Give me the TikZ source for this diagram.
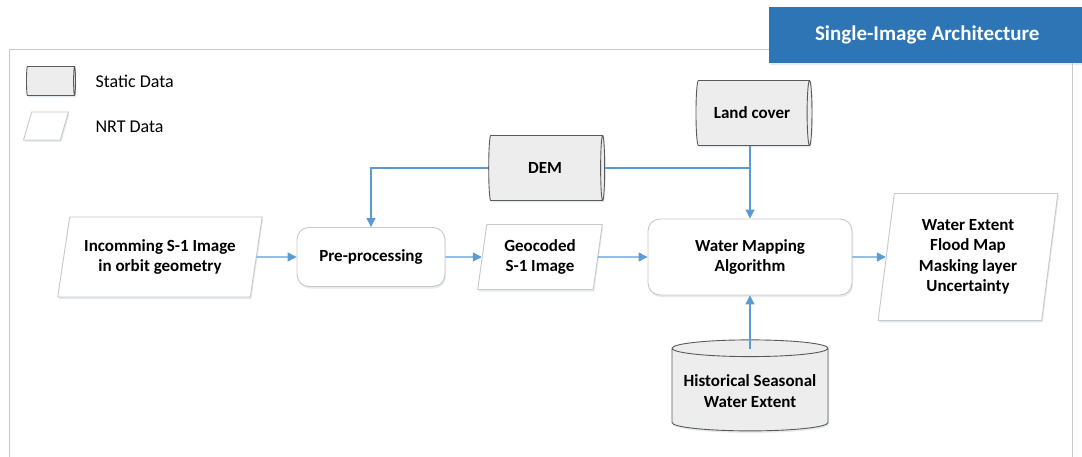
\documentclass[tikz,border=0pt]{standalone}
\usepackage{fontspec}
\setmainfont{Carlito}
\usetikzlibrary{shapes.geometric,arrows.meta,shadows}

\definecolor{flowblue}{HTML}{5B9BD5}
\definecolor{titleblue}{HTML}{2E75B6}
\definecolor{drumgray}{HTML}{EDEDED}
\definecolor{edgegray}{HTML}{C8C8C8}
\definecolor{drumedge}{HTML}{5A5A5A}
\definecolor{shadegray}{HTML}{B4C3D2}

\newcommand{\boxfont}{\fontsize{17}{20.5}\selectfont\bfseries}

\tikzset{
  softshadow/.style={drop shadow={shadow xshift=1pt, shadow yshift=-2pt, fill=shadegray, opacity=0.35}},
  staticdata/.style={cylinder, draw=drumedge, fill=drumgray, line width=0.9pt,
    shape aspect=0.25, align=center, font=\boxfont, softshadow},
  nrtdata/.style={trapezium, trapezium stretches=true, draw=edgegray, fill=white,
    line width=0.9pt, trapezium left angle=76, trapezium right angle=104,
    align=center, font=\boxfont, softshadow},
  process/.style={rectangle, rounded corners=12pt, draw=edgegray, fill=white,
    line width=0.9pt, align=center, font=\boxfont, softshadow},
  flow/.style={draw=flowblue, line width=1.3pt, -{Triangle[length=9pt,width=9pt]}},
  flowline/.style={draw=flowblue, line width=1.3pt}
}

\begin{document}
\begin{tikzpicture}[x=1pt, y=-1pt, font=\fontsize{18}{21}\selectfont]
	\useasboundingbox (0,0) rectangle (1082,457);

	% frame and title
	\draw[edgegray, line width=1pt] (9,480) -- (9,50) -- (1072,50) -- (1072,480);
	\node[fill=titleblue, text=white, font=\fontsize{21}{24}\selectfont\bfseries,
		minimum width=330, minimum height=56, anchor=north west, softshadow] (title) at (769,7) {\hspace*{-14pt}Single-Image Architecture};

	% legend
	\node[staticdata, minimum width=29, minimum height=49, shape aspect=0.28] (keystatic) at (50,81) {};
	\node[anchor=west] (keystatictext) at (92,81) {Static Data};
	\node[nrtdata, minimum width=45, minimum height=28, trapezium left angle=74, trapezium right angle=106] (keynrt) at (46,126) {};
	\node[anchor=west] (keynrttext) at (92,127) {NRT Data};

	% data and processing chain
	\node[nrtdata, minimum width=205, minimum height=80] (incoming) at (160,257) {Incomming S-1 Image\\in orbit geometry};
	\node[process, minimum width=148, minimum height=59] (preproc) at (371,257) {Pre-processing};
	\node[nrtdata, minimum width=125, minimum height=65, trapezium left angle=81, trapezium right angle=99] (geocoded) at (540,257) {Geocoded\\S-1 Image};
	\node[process, minimum width=204, minimum height=76] (watermap) at (750,257) {Water Mapping\\Algorithm};
	\node[nrtdata, minimum width=180, minimum height=127, trapezium left angle=82, trapezium right angle=98] (output) at (968,257) {Water Extent\\Flood Map\\Masking layer\\Uncertainty};

	% static inputs
	\node[staticdata, minimum width=65, minimum height=116, shape aspect=0.23] (dem) at (545,168) {DEM};
	\node[staticdata, minimum width=65, minimum height=116, shape aspect=0.26] (landcover) at (752,113) {Land cover};
	\node[staticdata, shape border rotate=90, shape aspect=0.12, minimum width=156, minimum height=91] (history) at (750,391) {Historical Seasonal\\Water Extent};

	% connectors
	\draw[flow] (incoming) -- (preproc);
	\draw[flow] (preproc) -- (geocoded);
	\draw[flow] (geocoded) -- (watermap);
	\draw[flow] (watermap) -- (output);
	\draw[flow] (dem.west) -| (preproc.north);
	\draw[flowline] (dem.east) -- (dem.east -| watermap.north);
	\draw[flow] (landcover.south -| watermap.north) -- (watermap.north);
	\draw[flow] ([yshift=-10pt]history.top) -- (watermap.south);
\end{tikzpicture}
\end{document}
